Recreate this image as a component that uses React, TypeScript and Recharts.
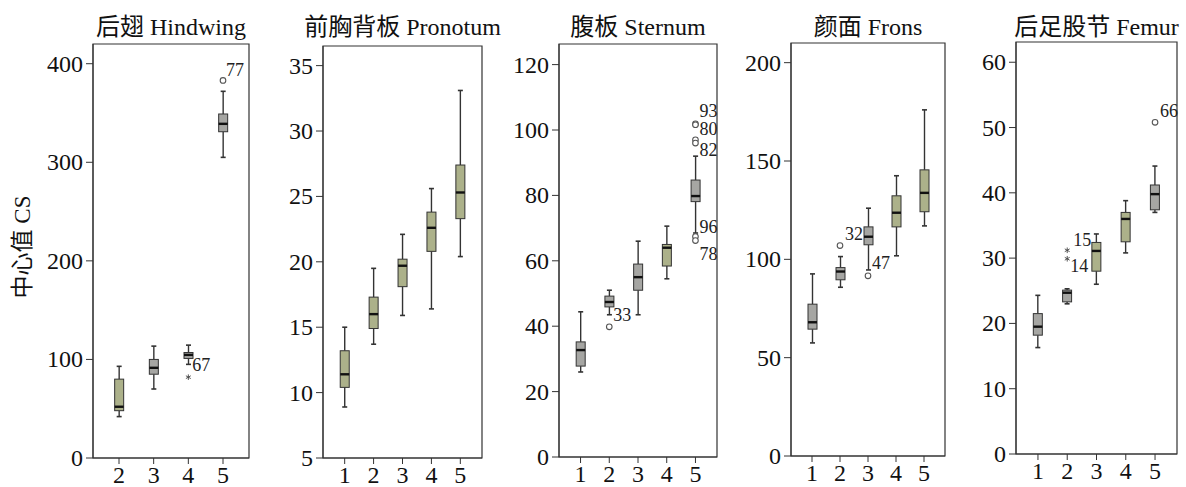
import React from 'react';
import { ComposedChart, Bar, Scatter, XAxis, YAxis, ReferenceArea } from 'recharts';

const FONT = '"Liberation Serif", "Times New Roman", "Noto Sans CJK SC", serif';
const GRAY = '#a6a6a3';
const OLIVE = '#acb18a';
const INK = '#333333';

// ── Data ──────────────────────────────────────────────────────

// 后翅 Hindwing
const hindCats = [2, 3, 4, 5];
const hindLow = [42, 70, 95, 305];
const hindQ1 = [48, 85, 101, 331];
const hindMed = [52, 91.5, 104.6, 339];
const hindQ3 = [80, 100, 107, 349];
const hindHigh = [93, 113.5, 114.5, 372];
const hindOutliers = [
  { cat: 5, value: 383, label: '77', mark: 'circle' },
  { cat: 4, value: 82, label: '67', mark: 'star' },
];

// 前胸背板 Pronotum
const proCats = [1, 2, 3, 4, 5];
const proLow = [8.9, 13.7, 15.9, 16.4, 20.4];
const proQ1 = [10.4, 14.9, 18.1, 20.8, 23.3];
const proMed = [11.4, 16.0, 19.7, 22.6, 25.3];
const proQ3 = [13.2, 17.3, 20.2, 23.8, 27.4];
const proHigh = [15.0, 19.5, 22.1, 25.6, 33.1];
const proOutliers: Outlier[] = [];

// 腹板 Sternum
const sterCats = [1, 2, 3, 4, 5];
const sterLow = [26, 43.5, 43.5, 54.5, 68.5];
const sterQ1 = [27.8, 45.9, 51, 58.4, 78.1];
const sterMed = [32.7, 47.4, 55, 64, 79.8];
const sterQ3 = [35.2, 49.2, 59, 65, 84.7];
const sterHigh = [44.4, 51, 66, 70.6, 92];
const sterOutliers = [
  { cat: 2, value: 39.8, label: '33', mark: 'circle' },
  { cat: 5, value: 101.9, label: '93', mark: 'circle' },
  { cat: 5, value: 101.6, label: '80', mark: 'circle' },
  { cat: 5, value: 97.0, label: '82', mark: 'circle' },
  { cat: 5, value: 96.0, label: '', mark: 'circle' },
  { cat: 5, value: 67.4, label: '96', mark: 'circle' },
  { cat: 5, value: 66.2, label: '78', mark: 'circle' },
];

// 颜面 Frons
const fronsCats = [1, 2, 3, 4, 5];
const fronsLow = [57.5, 85.8, 94.6, 101.8, 117];
const fronsQ1 = [64.5, 89.6, 107.4, 116.5, 124.2];
const fronsMed = [68, 93.8, 111.5, 123.7, 133.8];
const fronsQ3 = [77.2, 95.8, 116.5, 132.3, 145.5];
const fronsHigh = [92.6, 101.4, 126, 142.5, 176];
const fronsOutliers = [
  { cat: 2, value: 107, label: '32', mark: 'circle' },
  { cat: 3, value: 91.6, label: '47', mark: 'circle' },
];

// 后足股节 Femur
const femCats = [1, 2, 3, 4, 5];
const femLow = [16.3, 23.0, 26.0, 30.8, 37.0];
const femQ1 = [18.2, 23.3, 28.0, 32.5, 37.4];
const femMed = [19.5, 24.7, 31.1, 36.0, 39.8];
const femQ3 = [21.5, 25.1, 32.4, 37.0, 41.2];
const femHigh = [24.3, 25.3, 33.7, 38.8, 44.1];
const femOutliers = [
  { cat: 2, value: 31.2, label: '15', mark: 'star' },
  { cat: 2, value: 29.9, label: '14', mark: 'star' },
  { cat: 5, value: 50.8, label: '66', mark: 'circle' },
];

type Outlier = { cat: number; value: number; label: string; mark: string };

// label placement next to each outlier marker [dx, dy]
const LABEL_OFFSETS: Record<string, [number, number]> = {
  '77': [3, -10],
  '67': [4, -12],
  '33': [4, -12],
  '93': [4, -13],
  '80': [4, 4],
  '82': [4, 10],
  '96': [4, -10],
  '78': [4, 13],
  '32': [5, -12],
  '47': [4, -13],
  '15': [6, -10],
  '14': [3, 7],
  '66': [5, -11],
};

function buildBoxes(cats: number[], low: number[], q1: number[], med: number[], q3: number[], high: number[], fills: string[]) {
  return cats.map((cat, i) => ({
    cat,
    low: low[i],
    q1: q1[i],
    med: med[i],
    q3: q3[i],
    high: high[i],
    fill: fills[i],
  }));
}

const PANELS = [
  {
    title: '后翅 Hindwing',
    boxes: buildBoxes(hindCats, hindLow, hindQ1, hindMed, hindQ3, hindHigh, [OLIVE, GRAY, GRAY, GRAY]),
    outliers: hindOutliers,
    cats: hindCats,
    xDomain: [1.25, 5.75],
    yDomain: [0, 420],
    yTicks: [0, 100, 200, 300, 400],
    plot: { left: 93, top: 44, width: 156, height: 414 },
  },
  {
    title: '前胸背板 Pronotum',
    boxes: buildBoxes(proCats, proLow, proQ1, proMed, proQ3, proHigh, [OLIVE, OLIVE, OLIVE, OLIVE, OLIVE]),
    outliers: proOutliers,
    cats: proCats,
    xDomain: [0.25, 5.75],
    yDomain: [5, 36.5],
    yTicks: [5, 10, 15, 20, 25, 30, 35],
    plot: { left: 323, top: 46, width: 159, height: 412 },
  },
  {
    title: '腹板 Sternum',
    boxes: buildBoxes(sterCats, sterLow, sterQ1, sterMed, sterQ3, sterHigh, [GRAY, GRAY, GRAY, OLIVE, GRAY]),
    outliers: sterOutliers,
    cats: sterCats,
    xDomain: [0.25, 5.75],
    yDomain: [0, 126.3],
    yTicks: [0, 20, 40, 60, 80, 100, 120],
    plot: { left: 559, top: 44, width: 158, height: 413 },
  },
  {
    title: '颜面 Frons',
    boxes: buildBoxes(fronsCats, fronsLow, fronsQ1, fronsMed, fronsQ3, fronsHigh, [GRAY, GRAY, GRAY, OLIVE, OLIVE]),
    outliers: fronsOutliers,
    cats: fronsCats,
    xDomain: [0.25, 5.75],
    yDomain: [0, 210],
    yTicks: [0, 50, 100, 150, 200],
    plot: { left: 791, top: 43, width: 154, height: 413 },
  },
  {
    title: '后足股节 Femur',
    boxes: buildBoxes(femCats, femLow, femQ1, femMed, femQ3, femHigh, [GRAY, GRAY, OLIVE, OLIVE, GRAY]),
    outliers: femOutliers,
    cats: femCats,
    xDomain: [0.25, 5.75],
    yDomain: [0, 63.1],
    yTicks: [0, 10, 20, 30, 40, 50, 60],
    plot: { left: 1016, top: 42, width: 161, height: 412 },
  },
];

// ── Shapes ────────────────────────────────────────────────────

function BoxShape(props: any) {
  const { x, y, width, height, payload } = props;
  if (x == null || y == null || !payload) return null;
  const top = Math.min(y, y + height);
  const h = Math.abs(height);
  const { low, high, q1, q3, med, fill } = payload;
  const py = (v: number) => top + (h * (high - v)) / (high - low);
  const cx = x + width / 2;
  const cap = 2.5;
  return (
    <g>
      <line x1={cx} x2={cx} y1={py(high)} y2={py(q3)} stroke={INK} strokeWidth={1.4} />
      <line x1={cx} x2={cx} y1={py(q1)} y2={py(low)} stroke={INK} strokeWidth={1.4} />
      <line x1={cx - cap} x2={cx + cap} y1={py(high)} y2={py(high)} stroke={INK} strokeWidth={1.6} />
      <line x1={cx - cap} x2={cx + cap} y1={py(low)} y2={py(low)} stroke={INK} strokeWidth={1.6} />
      <rect x={x} y={py(q3)} width={width} height={py(q1) - py(q3)} fill={fill} stroke={INK} strokeWidth={1} />
      <line x1={x} x2={x + width} y1={py(med)} y2={py(med)} stroke="#111" strokeWidth={2.4} />
    </g>
  );
}

function OutlierShape(props: any) {
  const { cx, cy, payload } = props;
  if (cx == null || cy == null || !payload) return null;
  const off = LABEL_OFFSETS[payload.label] ?? [4, -10];
  const r = 2.8;
  return (
    <g>
      {payload.mark === 'star' ? (
        <g stroke="#444" strokeWidth={0.9}>
          <line x1={cx} x2={cx} y1={cy - r} y2={cy + r} />
          <line x1={cx - r * 0.87} x2={cx + r * 0.87} y1={cy - r / 2} y2={cy + r / 2} />
          <line x1={cx - r * 0.87} x2={cx + r * 0.87} y1={cy + r / 2} y2={cy - r / 2} />
        </g>
      ) : (
        <circle cx={cx} cy={cy} r={r} fill="#fff" stroke="#555" strokeWidth={1.1} />
      )}
      {payload.label ? (
        <text
          x={cx + off[0]}
          y={cy + off[1]}
          dominantBaseline="central"
          fontSize={18}
          fontFamily={FONT}
          fill="#222"
        >
          {payload.label}
        </text>
      ) : null}
    </g>
  );
}

function YTick(props: any) {
  const { x, y, payload } = props;
  return (
    <text x={x} y={y} textAnchor="end" dominantBaseline="central" fontSize={24} fontFamily={FONT} fill="#111">
      {payload.value}
    </text>
  );
}

function XTick(props: any) {
  const { x, y, payload } = props;
  return (
    <text x={x} y={y} dy="0.71em" textAnchor="middle" fontSize={24} fontFamily={FONT} fill="#111">
      {payload.value}
    </text>
  );
}

// ── Panel ─────────────────────────────────────────────────────

const Y_AXIS_W = 70;
const M_TOP = 10;
const M_RIGHT = 12;
const X_AXIS_H = 45;

function Panel({ panel }: { panel: (typeof PANELS)[number] }) {
  const { plot } = panel;
  return (
    <>
      <div
        style={{
          position: 'absolute',
          left: plot.left + plot.width / 2 - 120,
          width: 240,
          top: 12,
          textAlign: 'center',
          fontFamily: FONT,
          fontSize: 24,
          lineHeight: '30px',
          color: '#111',
          whiteSpace: 'nowrap',
        }}
      >
        {panel.title}
      </div>
      <div style={{ position: 'absolute', left: plot.left - Y_AXIS_W, top: plot.top - M_TOP }}>
        <ComposedChart
          width={Y_AXIS_W + plot.width + M_RIGHT}
          height={M_TOP + plot.height + X_AXIS_H}
          data={panel.boxes}
          margin={{ top: M_TOP, right: M_RIGHT, bottom: 0, left: 0 }}
        >
          <XAxis
            dataKey="cat"
            type="number"
            domain={panel.xDomain}
            ticks={panel.cats}
            interval={0}
            height={X_AXIS_H}
            tick={<XTick />}
            tickSize={6}
            tickMargin={2}
            stroke={INK}
          />
          <YAxis
            type="number"
            domain={panel.yDomain}
            ticks={panel.yTicks}
            interval={0}
            width={Y_AXIS_W}
            tick={<YTick />}
            tickSize={7}
            tickMargin={3}
            stroke={INK}
          />
          <ReferenceArea
            x1={panel.xDomain[0]}
            x2={panel.xDomain[1]}
            y1={panel.yDomain[0]}
            y2={panel.yDomain[1]}
            fill="none"
            fillOpacity={0}
            stroke={INK}
            strokeWidth={1.2}
            ifOverflow="visible"
          />
          <Bar
            dataKey={(d: any) => [d.low, d.high]}
            barSize={9}
            shape={(p: any) => <BoxShape {...p} />}
            isAnimationActive={false}
          />
          <Scatter
            data={panel.outliers}
            dataKey="value"
            shape={(p: any) => <OutlierShape {...p} />}
            isAnimationActive={false}
          />
        </ComposedChart>
      </div>
    </>
  );
}

export default function App() {
  return (
    <div
      style={{
        position: 'absolute',
        left: 0,
        top: 0,
        width: 1186,
        height: 487,
        overflow: 'hidden',
        background: '#fff',
      }}
    >
      <div
        style={{
          position: 'absolute',
          left: 23 - 80,
          top: 247 - 15,
          width: 160,
          height: 30,
          lineHeight: '30px',
          textAlign: 'center',
          transform: 'rotate(-90deg)',
          fontFamily: FONT,
          fontSize: 23,
          color: '#111',
          whiteSpace: 'nowrap',
        }}
      >
        中心值 CS
      </div>
      {PANELS.map((p) => (
        <Panel key={p.title} panel={p} />
      ))}
    </div>
  );
}
